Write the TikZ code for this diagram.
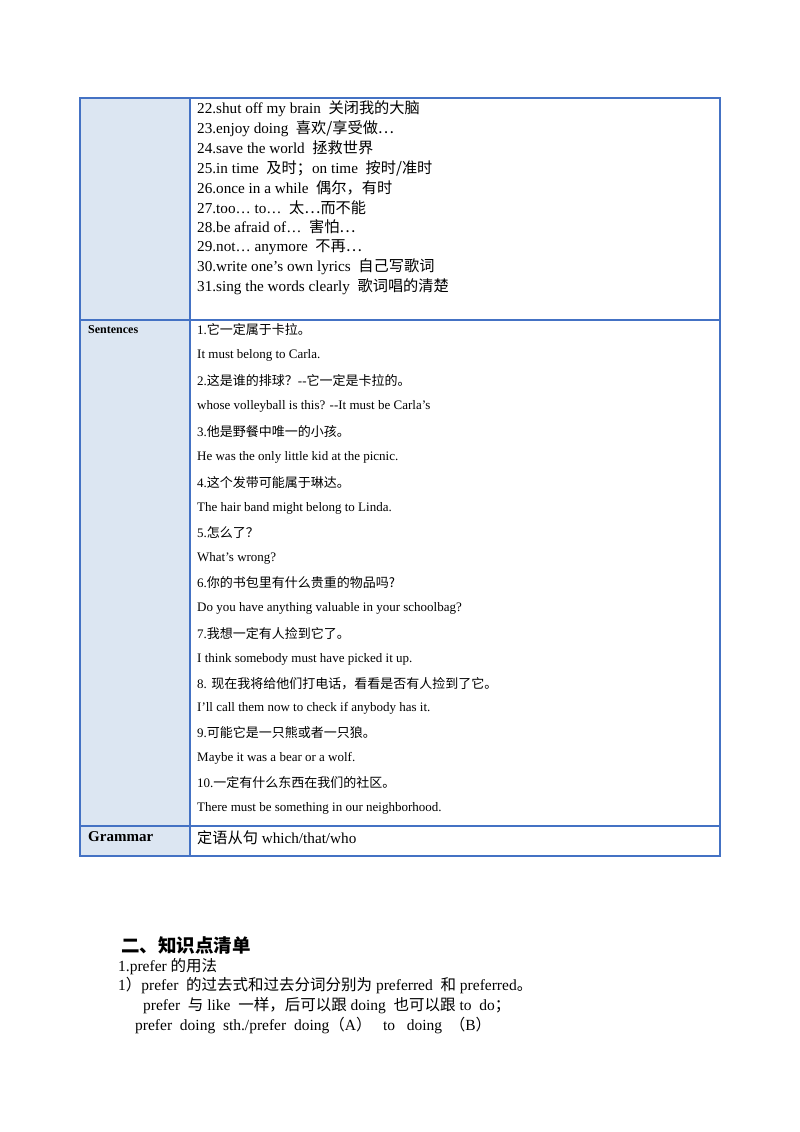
\documentclass[tikz,border=0pt]{standalone}
\usepackage{fontspec}
\setmainfont{Liberation Serif}
\newfontfamily\cjk{Noto Sans CJK SC}
\newcommand{\zh}[1]{{\cjk #1}}
\definecolor{bord}{HTML}{4472C4}
\definecolor{cellbg}{HTML}{DCE6F2}
\begin{document}
\begin{tikzpicture}[x=1pt,y=-1pt,
  t/.style={anchor=west,inner sep=0pt,font=\fontsize{15.2}{15}\selectfont},
  s/.style={anchor=west,inner sep=0pt,font=\fontsize{13}{13}\selectfont},
  h/.style={anchor=west,inner sep=0pt,font=\fontsize{15.5}{15}\selectfont}]
\useasboundingbox (0,0) rectangle (800,1132);
\fill[white] (0,0) rectangle (800,1132);
\fill[cellbg] (80,98) rectangle (190,856);
\draw[bord,line width=1.5pt] (80,98) rectangle (720,856);
\draw[bord,line width=1.5pt] (190,98) -- (190,856);
\draw[bord,line width=1.5pt] (80,320) -- (720,320);
\draw[bord,line width=1.5pt] (80,826) -- (720,826);
\node[t] (v22) at (197,109) {22.shut off my brain\ \ \zh{关闭我的大脑}};
\node[t] (v23) at (197,129) {23.enjoy doing\ \ \zh{喜欢/享受做…}};
\node[t] (v24) at (197,148) {24.save the world\ \ \zh{拯救世界}};
\node[t] (v25) at (197,168) {25.in time\ \ \zh{及时；}on time\ \ \zh{按时/准时}};
\node[t] (v26) at (197,188) {26.once in a while\ \ \zh{偶尔，有时}};
\node[t] (v27) at (197,208) {27.too… to…\ \ \zh{太…而不能}};
\node[t] (v28) at (197,227) {28.be afraid of…\ \ \zh{害怕…}};
\node[t] (v29) at (197,247) {29.not… anymore\ \ \zh{不再…}};
\node[t] (v30) at (197,267) {30.write one’s own lyrics\ \ \zh{自己写歌词}};
\node[t] (v31) at (197,287) {31.sing the words clearly\ \ \zh{歌词唱的清楚}};
\node[anchor=west,inner sep=0pt,font=\fontsize{12}{12}\selectfont\bfseries] (sl) at (88,330) {Sentences};
\node[s] (s1) at (197,330) {1.\zh{它一定属于卡拉。}};
\node[s] (s2) at (197,355) {It must belong to Carla.};
\node[s] (s3) at (197,381) {2.\zh{这是谁的排球？}{-}{-}\zh{它一定是卡拉的。}};
\node[s] (s4) at (197,406) {whose volleyball is this? {-}{-}It must be Carla’s};
\node[s] (s5) at (197,432) {3.\zh{他是野餐中唯一的小孩。}};
\node[s] (s6) at (197,457) {He was the only little kid at the picnic.};
\node[s] (s7) at (197,483) {4.\zh{这个发带可能属于琳达。}};
\node[s] (s8) at (197,508) {The hair band might belong to Linda.};
\node[s] (s9) at (197,533) {5.\zh{怎么了？}};
\node[s] (s10) at (197,558) {What’s wrong?};
\node[s] (s11) at (197,583) {6.\zh{你的书包里有什么贵重的物品吗?}};
\node[s] (s12) at (197,608) {Do you have anything valuable in your schoolbag?};
\node[s] (s13) at (197,634) {7.\zh{我想一定有人捡到它了。}};
\node[s] (s14) at (197,659) {I think somebody must have picked it up.};
\node[s] (s15) at (197,684) {8. \zh{现在我将给他们打电话，看看是否有人捡到了它。}};
\node[s] (s16) at (197,708) {I’ll call them now to check if anybody has it.};
\node[s] (s17) at (197,733) {9.\zh{可能它是一只熊或者一只狼。}};
\node[s] (s18) at (197,758) {Maybe it was a bear or a wolf.};
\node[s] (s19) at (197,783) {10.\zh{一定有什么东西在我们的社区。}};
\node[s] (s20) at (197,808) {There must be something in our neighborhood.};
\node[anchor=west,inner sep=0pt,font=\fontsize{15}{15}\selectfont\bfseries] (gl) at (88,837) {Grammar};
\node[t] (g) at (197,838) {\zh{定语从句} which/that/who};
\node[anchor=west,inner sep=0pt,font=\fontsize{18.5}{18}\selectfont\cjk\bfseries] (hd) at (121,945) {二、知识点清单};
\node[h] (p1) at (118,967) {1.prefer \zh{的用法}};
\node[h] (p2) at (118,986) {1\zh{）}prefer\ \ \zh{的过去式和过去分词分别为} preferred\ \ \zh{和} preferred\zh{。}};
\node[h] (p3) at (143,1006) {prefer\ \ \zh{与} like\ \ \zh{一样，后可以跟} doing\ \ \zh{也可以跟} to\ \ do\zh{；}};
\node[h] (p4) at (135,1026) {prefer\ \ doing\ \ sth./prefer\ \ doing\zh{（}A\zh{）}\ \ \ to\ \ \ doing\ \ \zh{（}B\zh{）}};
\end{tikzpicture}
\end{document}
